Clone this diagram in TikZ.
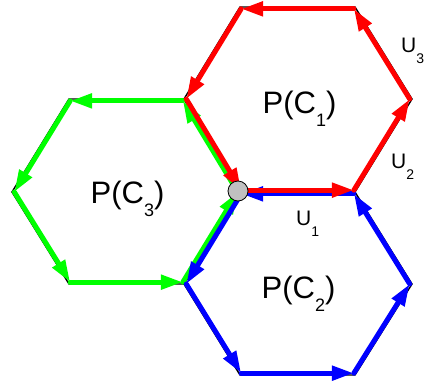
\documentclass[tikz,border=0pt]{standalone}
\usepackage{fontspec}
\setmainfont{Liberation Sans}
\usetikzlibrary{arrows.meta,calc}
\newcommand\lowsub[1]{\raisebox{-13pt}{\fontsize{18}{18}\selectfont #1}}
\newcommand\usub[1]{\raisebox{-11pt}{\fontsize{14}{14}\selectfont #1}}
\begin{document}
\begin{tikzpicture}[x=1pt,y=-1pt,
  outline/.style={black, line width=1.4pt, line join=miter},
  edge/.style={line width=5pt, line cap=round, -{Triangle[length=22pt,width=14pt]}},
  biglabel/.style={font=\fontsize{31}{31}\selectfont, inner sep=0pt, anchor=base},
  ulabel/.style={font=\fontsize{21}{21}\selectfont, inner sep=0pt, anchor=base west}]
\useasboundingbox (0,0) rectangle (428,386);
% centres
\coordinate (c1) at (298,99.5);
\coordinate (c2) at (298,283.5);
\coordinate (c3) at (126,192);
% vertices
\coordinate (A) at (240,192);
\coordinate (B) at (355,192);
\coordinate (Cc) at (412,99);
\coordinate (D) at (355,7);
\coordinate (E) at (240,7);
\coordinate (F) at (184,99);
\coordinate (G) at (412,284);
\coordinate (H) at (355,375);
\coordinate (I) at (240,375);
\coordinate (J) at (184,284);
\coordinate (K) at (69,99);
\coordinate (L) at (12,192);
\coordinate (M) at (69,284);
% black outlines
\draw[outline] (A)--(B)--(Cc)--(D)--(E)--(F)--cycle;
\draw[outline] (A)--(B)--(G)--(H)--(I)--(J)--cycle;
\draw[outline] (F)--(K)--(L)--(M)--(J)--(A)--cycle;
% coloured, inward-offset vertices
\foreach \p [count=\k] in {A,B,Cc,D,E,F} \coordinate (r\k) at ($(c1)!0.98!(\p)$);
\foreach \p [count=\k] in {B,A,J,I,H,G} \coordinate (b\k) at ($(c2)!0.98!(\p)$);
\foreach \p [count=\k] in {F,K,L,M,J,A} \coordinate (g\k) at ($(c3)!0.98!(\p)$);
% edges
\foreach \k/\m in {1/2,2/3,3/4,4/5,5/6,6/1} \draw[edge,green] (g\k) -- (g\m);
\foreach \k/\m in {1/2,2/3,3/4,4/5,5/6,6/1} \draw[edge,blue] (b\k) -- (b\m);
\foreach \k/\m in {1/2,2/3,3/4,4/5,5/6,6/1} \draw[edge,red] (r\k) -- (r\m);
% hub
\node[circle, draw=black, fill={rgb,255:red,192;green,192;blue,192}, minimum size=20pt, inner sep=0pt, line width=0.8pt] (hub) at (238,191) {};
% labels
\node[biglabel] (p1) at (299.5,113) {P(C\lowsub{1})};
\node[biglabel] (p2) at (298.5,298) {P(C\lowsub{2})};
\node[biglabel] (p3) at (127.5,203) {P(C\lowsub{3})};
\node[ulabel] (u1) at (296,225) {U\usub{1}};
\node[ulabel] (u2) at (391,168) {U\usub{2}};
\node[ulabel] (u3) at (401,52) {U\usub{3}};
\end{tikzpicture}
\end{document}
